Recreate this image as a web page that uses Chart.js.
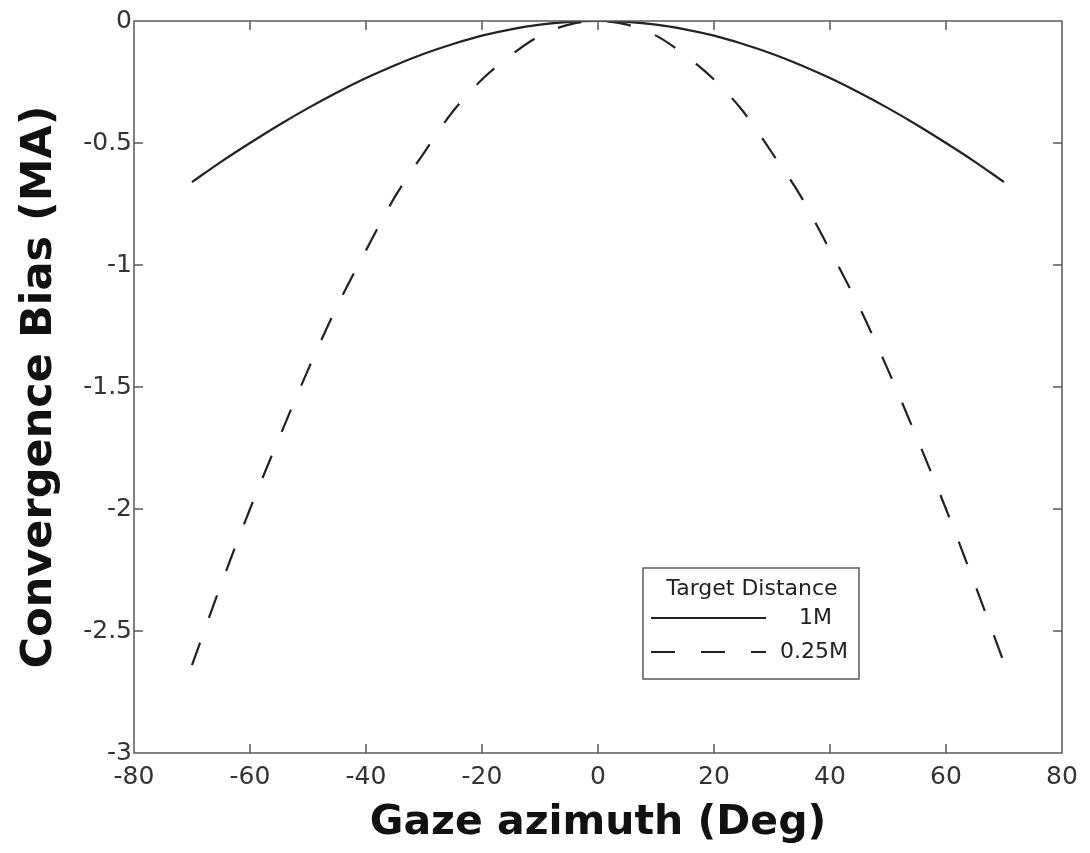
<!DOCTYPE html>
<html>
<head>
<meta charset="utf-8">
<script src="https://cdn.jsdelivr.net/npm/chart.js@4.4.1/dist/chart.umd.min.js"></script>
<style>
  html, body { margin: 0; padding: 0; background: #fff; }
  #wrap { width: 1090px; height: 853px; }
</style>
</head>
<body>
<div id="wrap"><canvas id="bias-chart"></canvas></div>
<script>
// --- data ---
const azimuth = [-70, -65, -60, -55, -50, -45, -40, -35, -30, -25, -20, -15, -10, -5, 0,
                 5, 10, 15, 20, 25, 30, 35, 40, 45, 50, 55, 60, 65, 70];
const bias1M = [-0.66, -0.577, -0.50, -0.426, -0.357, -0.293, -0.234, -0.181, -0.134, -0.094, -0.060, -0.034, -0.015, -0.004, 0,
                -0.004, -0.015, -0.034, -0.060, -0.094, -0.134, -0.181, -0.234, -0.293, -0.357, -0.426, -0.50, -0.577, -0.66];
const bias025M = [-2.64, -2.31, -2.00, -1.71, -1.43, -1.17, -0.94, -0.72, -0.54, -0.37, -0.24, -0.14, -0.06, -0.015, 0,
                  -0.015, -0.06, -0.14, -0.24, -0.37, -0.54, -0.72, -0.94, -1.17, -1.43, -1.71, -2.00, -2.31, -2.63];
const seriesNames = ['1M', '0.25M'];
const legendTitle = 'Target Distance';
const xTicks = [-80, -60, -40, -20, 0, 20, 40, 60, 80];
const yTicks = [-3, -2.5, -2, -1.5, -1, -0.5, 0];

const AXIS_COLOR = '#5a5a5a';
const LINE_COLOR = '#222';
const TICK_FONT = { family: '"DejaVu Sans", sans-serif', size: 25 };
const titleFont = size => ({ family: '"DejaVu Sans", sans-serif', size, weight: 'bold', lineHeight: 1.2 });

const toPoints = ys => azimuth.map((x, i) => ({ x, y: ys[i] }));

// ==============================================
// box frame + inward tick marks on all four sides
// ==============================================
const frameTicks = {
  id: 'frameTicks',
  afterDraw(chart) {
    const { ctx, chartArea: a, scales } = chart;
    const len = 9;
    ctx.save();
    ctx.strokeStyle = AXIS_COLOR;
    ctx.lineWidth = 1.5;
    ctx.beginPath();
    ctx.rect(a.left, a.top, a.right - a.left, a.bottom - a.top);
    xTicks.forEach(v => {
      const px = scales.x.getPixelForValue(v);
      ctx.moveTo(px, a.bottom); ctx.lineTo(px, a.bottom - len);
      ctx.moveTo(px, a.top);    ctx.lineTo(px, a.top + len);
    });
    yTicks.forEach(v => {
      const py = scales.y.getPixelForValue(v);
      ctx.moveTo(a.left, py);  ctx.lineTo(a.left + len, py);
      ctx.moveTo(a.right, py); ctx.lineTo(a.right - len, py);
    });
    ctx.stroke();
    ctx.restore();
  }
};

// ==============================================
// boxed legend with a heading, inside the plot
// ==============================================
const boxLegend = {
  id: 'boxLegend',
  afterDraw(chart) {
    const { ctx, chartArea: a } = chart;
    const w = 216, h = 111;
    const x0 = a.right - 419, y0 = a.bottom - 185;
    ctx.save();
    ctx.fillStyle = '#fff';
    ctx.fillRect(x0, y0, w, h);
    ctx.strokeStyle = AXIS_COLOR;
    ctx.lineWidth = 1.5;
    ctx.strokeRect(x0, y0, w, h);

    ctx.fillStyle = '#222';
    ctx.font = '22px "DejaVu Sans", sans-serif';
    ctx.textBaseline = 'middle';
    ctx.textAlign = 'center';
    ctx.fillText(legendTitle, x0 + w / 2 + 1, y0 + 21);

    const rows = [
      { y: y0 + 50, textRight: x0 + 189 },
      { y: y0 + 84, textRight: x0 + 205 }
    ];
    chart.data.datasets.forEach((ds, i) => {
      const r = rows[i];
      ctx.beginPath();
      ctx.strokeStyle = ds.borderColor;
      ctx.lineWidth = ds.borderWidth;
      ctx.setLineDash(ds.borderDash || []);
      ctx.moveTo(x0 + 8, r.y);
      ctx.lineTo(x0 + 123, r.y);
      ctx.stroke();
      ctx.setLineDash([]);
      ctx.textAlign = 'right';
      ctx.fillText(ds.label, r.textRight, r.y);
    });
    ctx.restore();
  }
};

const ctx = document.getElementById('bias-chart').getContext('2d');
new Chart(ctx, {
  type: 'line',
  data: {
    datasets: [
      {
        label: seriesNames[0],
        data: toPoints(bias1M),
        borderColor: LINE_COLOR,
        borderWidth: 2.2,
        pointRadius: 0,
        cubicInterpolationMode: 'monotone',
        fill: false
      },
      {
        label: seriesNames[1],
        data: toPoints(bias025M),
        borderColor: LINE_COLOR,
        borderWidth: 2.2,
        borderDash: [24, 26],
        pointRadius: 0,
        cubicInterpolationMode: 'monotone',
        fill: false
      }
    ]
  },
  options: {
    responsive: true,
    maintainAspectRatio: false,
    animation: false,
    layout: { padding: { left: 8, right: 28, top: 21, bottom: 0 } },
    plugins: {
      legend: { display: false },
      tooltip: { enabled: false }
    },
    scales: {
      x: {
        type: 'linear',
        min: -80,
        max: 80,
        afterBuildTicks(scale) { scale.ticks = xTicks.map(v => ({ value: v })); },
        afterFit(scale) { scale.height = 100; },
        grid: { display: false, drawTicks: false },
        border: { display: false },
        ticks: {
          padding: 9,
          color: '#333',
          font: TICK_FONT,
          maxRotation: 0,
          callback: v => String(v)
        },
        title: {
          display: true,
          text: 'Gaze azimuth (Deg)',
          color: '#111',
          font: titleFont(41),
          padding: { top: 5, bottom: 5 }
        }
      },
      y: {
        type: 'linear',
        min: -3,
        max: 0,
        afterBuildTicks(scale) { scale.ticks = yTicks.map(v => ({ value: v })); },
        afterFit(scale) { scale.width = 126; },
        grid: { display: false, drawTicks: false },
        border: { display: false },
        ticks: {
          padding: 2,
          color: '#333',
          font: TICK_FONT,
          callback: v => String(v)
        },
        title: {
          display: true,
          text: 'Convergence Bias (MA)',
          color: '#111',
          font: titleFont(43),
          padding: { top: 6, bottom: 5 }
        }
      }
    }
  },
  plugins: [frameTicks, boxLegend]
});
</script>
</body>
</html>
